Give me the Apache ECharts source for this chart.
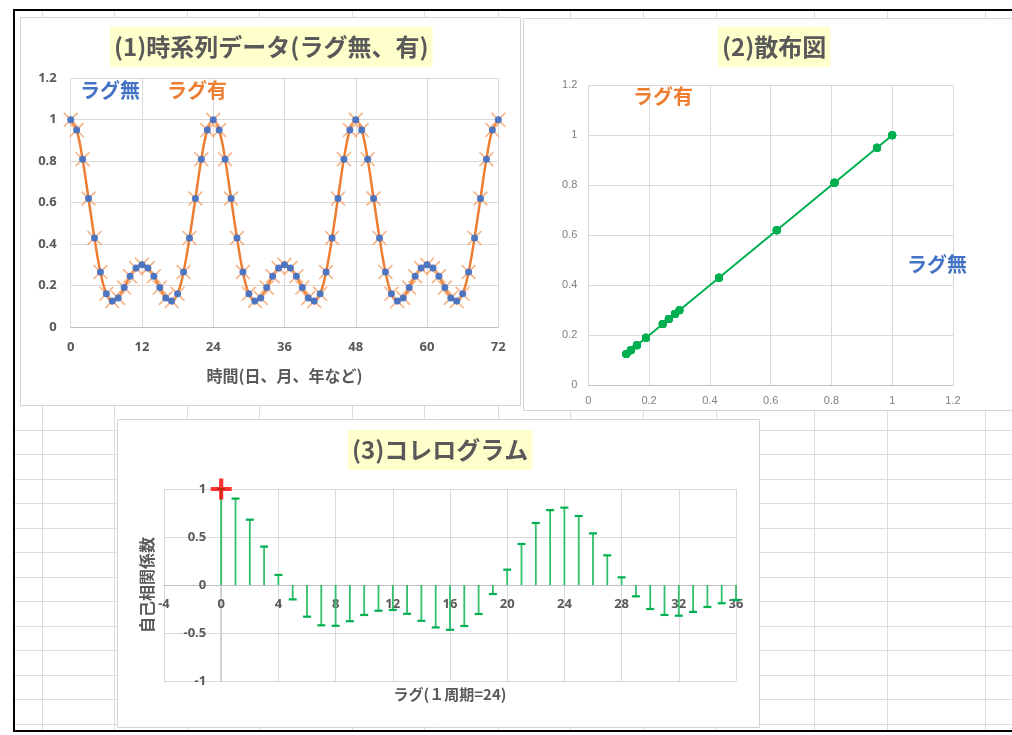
<!DOCTYPE html>
<html>
<head>
<meta charset="utf-8">
<script src="https://cdn.jsdelivr.net/npm/echarts@6/dist/echarts.min.js"></script>
<style>
html, body { margin: 0; padding: 0; background: #fff; }
#main { width: 1012px; height: 735px; }
</style>
</head>
<body>
<div id="main"></div>
<script>
// Time series (period 24), t = 0 .. 72
const seriesNoLag = [
  1, 0.95, 0.81, 0.62, 0.43, 0.265, 0.16, 0.125, 0.14, 0.19, 0.245, 0.285,
  0.30, 0.285, 0.245, 0.19, 0.14, 0.125, 0.16, 0.265, 0.43, 0.62, 0.81, 0.95,
  1, 0.95, 0.81, 0.62, 0.43, 0.265, 0.16, 0.125, 0.14, 0.19, 0.245, 0.285,
  0.30, 0.285, 0.245, 0.19, 0.14, 0.125, 0.16, 0.265, 0.43, 0.62, 0.81, 0.95,
  1, 0.95, 0.81, 0.62, 0.43, 0.265, 0.16, 0.125, 0.14, 0.19, 0.245, 0.285,
  0.30, 0.285, 0.245, 0.19, 0.14, 0.125, 0.16, 0.265, 0.43, 0.62, 0.81, 0.95,
  1
];
// Same series shifted by one period (lag 24)
const seriesLag24 = [
  1, 0.95, 0.81, 0.62, 0.43, 0.265, 0.16, 0.125, 0.14, 0.19, 0.245, 0.285,
  0.30, 0.285, 0.245, 0.19, 0.14, 0.125, 0.16, 0.265, 0.43, 0.62, 0.81, 0.95,
  1, 0.95, 0.81, 0.62, 0.43, 0.265, 0.16, 0.125, 0.14, 0.19, 0.245, 0.285,
  0.30, 0.285, 0.245, 0.19, 0.14, 0.125, 0.16, 0.265, 0.43, 0.62, 0.81, 0.95,
  1, 0.95, 0.81, 0.62, 0.43, 0.265, 0.16, 0.125, 0.14, 0.19, 0.245, 0.285,
  0.30, 0.285, 0.245, 0.19, 0.14, 0.125, 0.16, 0.265, 0.43, 0.62, 0.81, 0.95,
  1
];
// Autocorrelation coefficients for lags 0 .. 36
const acfLags = [
  0, 1, 2, 3, 4, 5, 6, 7, 8, 9, 10, 11, 12, 13, 14, 15, 16, 17, 18,
  19, 20, 21, 22, 23, 24, 25, 26, 27, 28, 29, 30, 31, 32, 33, 34, 35, 36
];
const acfValues = [
  1, 0.90, 0.68, 0.40, 0.105, -0.15, -0.33, -0.42, -0.425, -0.377,
  -0.312, -0.268, -0.26, -0.30, -0.373, -0.442, -0.467, -0.427, -0.302,
  -0.094, 0.16, 0.427, 0.646, 0.78, 0.806, 0.719, 0.538, 0.309, 0.08,
  -0.118, -0.25, -0.312, -0.32, -0.28, -0.229, -0.19, -0.155
];

const titles = ['(1)時系列データ(ラグ無、有)', '(2)散布図', '(3)コレログラム'];
const nameNoLag = 'ラグ無';
const nameLag = 'ラグ有';

const JP = '"Noto Sans CJK JP", "Noto Sans", sans-serif';
const GREY = '#595959';
const BLUE = '#4472C4';
const ORANGE = '#ED7D31';
const GREEN = '#00B050';

const timeData = seriesNoLag.map((v, t) => [t, v]);
const timeDataLag = seriesLag24.map((v, t) => [t, v]);
const scatterData = seriesNoLag.map((v, i) => [v, seriesLag24[i]]);
const acfData = acfLags.map((k, i) => [k, acfValues[i]]);

// ---- worksheet backdrop: cell lines, frame, chart boxes ----
const colX = [42, 114, 187, 259, 352, 424, 498, 570, 643, 716, 814, 887, 985];
const rowY = [];
for (let y = 429.5; y < 731; y += 24.5) rowY.push(y);

const sheet = [{ type: 'rect', z: -30, shape: { x: 0, y: 0, width: 1012, height: 735 }, style: { fill: '#fff' } }];
colX.forEach(x => sheet.push({ type: 'line', z: -20, shape: { x1: x + 0.5, y1: 11, x2: x + 0.5, y2: 731 }, style: { stroke: '#dcdcdc', lineWidth: 1 } }));
rowY.forEach(y => sheet.push({ type: 'line', z: -20, shape: { x1: 14, y1: Math.round(y) + 0.5, x2: 1012, y2: Math.round(y) + 0.5 }, style: { stroke: '#dcdcdc', lineWidth: 1 } }));
const boxes = [[20.5, 17.5, 500, 388], [523.5, 18.5, 500, 392], [117.5, 419.5, 642, 308]];
boxes.forEach(b => sheet.push({ type: 'rect', z: -10, shape: { x: b[0], y: b[1], width: b[2], height: b[3] }, style: { fill: '#fff', stroke: '#d4d4d4', lineWidth: 1 } }));
sheet.push({ type: 'line', z: -5, shape: { x1: 13, y1: 10, x2: 1012, y2: 10 }, style: { stroke: '#000', lineWidth: 2 } });
sheet.push({ type: 'line', z: -5, shape: { x1: 14, y1: 9, x2: 14, y2: 732 }, style: { stroke: '#000', lineWidth: 2 } });
sheet.push({ type: 'line', z: -5, shape: { x1: 13, y1: 731, x2: 1012, y2: 731 }, style: { stroke: '#000', lineWidth: 2 } });

// Text boxes naming the two series
const seriesTag = (text, x, y, color) => ({
  type: 'text', z: 50, x: x, y: y,
  style: { text: text, fill: color, font: 'bold 20px ' + JP, textVerticalAlign: 'middle' }
});
sheet.push(seriesTag(nameNoLag, 80, 90, BLUE));
sheet.push(seriesTag(nameLag, 167, 90, ORANGE));
sheet.push(seriesTag(nameLag, 633, 96, ORANGE));
sheet.push(seriesTag(nameNoLag, 907, 264, BLUE));

const titleStyle = (text, left, top) => ({
  text: text, left: left, top: top,
  backgroundColor: '#FFFFCC', padding: [7, 4, 7, 4],
  textStyle: { fontSize: 24, fontWeight: 'bold', color: GREY, fontFamily: JP, lineHeight: 26 }
});

const boldLabel = (margin) => ({ color: GREY, fontSize: 13, fontWeight: 'bold', fontFamily: '"Noto Sans", sans-serif', margin: margin });
const thinLabel = (margin) => ({ color: '#7f7f7f', fontSize: 11, fontFamily: '"Liberation Sans", "Noto Sans", sans-serif', margin: margin });
const split = { show: true, lineStyle: { color: '#d9d9d9', width: 1 } };
const axisGrey = { show: true, lineStyle: { color: '#bfbfbf', width: 1 } };

// "x" marker drawn as a filled cross outline
const crossSymbol = 'path://M0,0.8L0.8,0L5,4.2L9.2,0L10,0.8L5.8,5L10,9.2L9.2,10L5,5.8L0.8,10L0,9.2L4.2,5Z';
const plusSymbol = 'path://M4,0H6V4H10V6H6V10H4V6H0V4H4Z';

// Correlogram plot area; its axes cross at lag 0 / coefficient 0
const acfGrid = { left: 164, top: 489, width: 572, height: 192 };
const acfXRange = [-4, 36];
const acfYRange = [-1, 1];
const acfXAxisShift = -acfGrid.height * (0 - acfYRange[0]) / (acfYRange[1] - acfYRange[0]);
const acfYAxisShift = -acfGrid.width * (0 - acfXRange[0]) / (acfXRange[1] - acfXRange[0]);

const option = {
  backgroundColor: '#fff',
  animation: false,
  graphic: { elements: sheet },
  title: [
    titleStyle(titles[0], 110, 27),
    titleStyle(titles[1], 718, 27),
    titleStyle(titles[2], 348, 430)
  ],
  grid: [
    { left: 70.7, top: 78.3, width: 427.6, height: 248.7, outerBoundsMode: 'none', containLabel: false },
    { left: 588.3, top: 85.3, width: 364.7, height: 300, outerBoundsMode: 'none', containLabel: false },
    Object.assign({ outerBoundsMode: 'none', containLabel: false }, acfGrid)
  ],
  xAxis: [
    {
      gridIndex: 0, type: 'value', min: 0, max: 72, interval: 12,
      axisLine: axisGrey, axisTick: { show: false }, axisLabel: boldLabel(14), splitLine: split,
      name: '時間(日、月、年など)', nameLocation: 'middle', nameGap: 41,
      nameTextStyle: { color: GREY, fontSize: 16, fontWeight: 'bold', fontFamily: JP }
    },
    {
      gridIndex: 1, type: 'value', min: 0, max: 1.2, interval: 0.2,
      axisLine: axisGrey, axisTick: { show: false }, axisLabel: thinLabel(10), splitLine: split
    },
    {
      gridIndex: 2, type: 'value', min: acfXRange[0], max: acfXRange[1], interval: 4,
      position: 'bottom', offset: acfXAxisShift,
      axisLine: { show: true, onZero: false, lineStyle: { color: '#bfbfbf', width: 1 } },
      axisTick: { show: false }, axisLabel: boldLabel(13), splitLine: split,
      name: 'ラグ(１周期=24)', nameLocation: 'middle', nameGap: 102,
      nameTextStyle: { color: GREY, fontSize: 15, fontWeight: 'bold', fontFamily: JP }
    }
  ],
  yAxis: [
    {
      gridIndex: 0, type: 'value', min: 0, max: 1.2, interval: 0.2,
      axisLine: { show: false }, axisTick: { show: false }, axisLabel: boldLabel(14), splitLine: split
    },
    {
      gridIndex: 1, type: 'value', min: 0, max: 1.2, interval: 0.2,
      axisLine: { show: false }, axisTick: { show: false }, axisLabel: thinLabel(11), splitLine: split
    },
    {
      gridIndex: 2, type: 'value', min: acfYRange[0], max: acfYRange[1], interval: 0.5,
      position: 'left', offset: acfYAxisShift,
      axisLine: { show: true, onZero: false, lineStyle: { color: '#c8c8c8', width: 1.5 } },
      axisTick: { show: false }, axisLabel: boldLabel(15), splitLine: split,
      name: '自己相関係数', nameLocation: 'middle', nameGap: 66, nameRotate: 90,
      nameTextStyle: { color: GREY, fontSize: 16, fontWeight: 'bold', fontFamily: JP }
    }
  ],
  series: [
    {
      name: nameLag, type: 'line', xAxisIndex: 0, yAxisIndex: 0,
      data: timeDataLag, smooth: 0.4, z: 2,
      lineStyle: { color: ORANGE, width: 2.5 },
      symbol: crossSymbol, symbolSize: 15, showSymbol: true,
      itemStyle: { color: '#F4A873', opacity: 0.85 }
    },
    {
      name: nameNoLag, type: 'scatter', xAxisIndex: 0, yAxisIndex: 0,
      data: timeData, z: 3, symbol: 'circle', symbolSize: 7,
      itemStyle: { color: BLUE, opacity: 0.95 }
    },
    {
      name: titles[1], type: 'line', xAxisIndex: 1, yAxisIndex: 1,
      data: scatterData, z: 3,
      lineStyle: { color: GREEN, width: 2 },
      symbol: 'circle', symbolSize: 8, showSymbol: true,
      itemStyle: { color: GREEN }
    },
    {
      name: titles[2], type: 'custom', xAxisIndex: 2, yAxisIndex: 2,
      data: acfData, z: 3, encode: { x: 0, y: 1 },
      renderItem: function (params, api) {
        const k = api.value(0), v = api.value(1);
        const base = api.coord([k, 0]);
        const tip = api.coord([k, v]);
        return {
          type: 'group',
          children: [
            { type: 'line', shape: { x1: base[0], y1: base[1], x2: tip[0], y2: tip[1] },
              style: { stroke: '#33BE6C', lineWidth: 1.8 } },
            { type: 'line', shape: { x1: tip[0] - 4, y1: tip[1], x2: tip[0] + 4, y2: tip[1] },
              style: { stroke: GREEN, lineWidth: 2.2 } }
          ]
        };
      }
    },
    {
      name: 'lag0', type: 'scatter', xAxisIndex: 2, yAxisIndex: 2,
      data: [acfData[0]], z: 5, symbol: plusSymbol, symbolSize: 21,
      itemStyle: { color: '#FF0000' }
    }
  ]
};

const chart = echarts.init(document.getElementById('main'), null, { renderer: 'canvas' });
chart.setOption(option);
</script>
</body>
</html>
